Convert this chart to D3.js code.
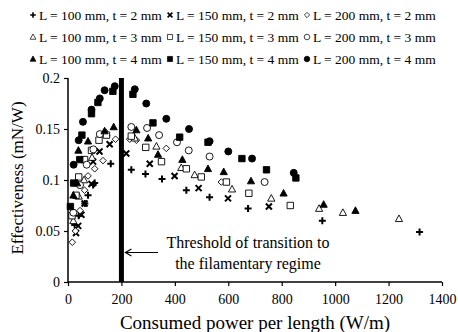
<!DOCTYPE html>
<html>
<head>
<meta charset="utf-8">
<script src="https://cdn.jsdelivr.net/npm/d3@7"></script>
<style>
  body { margin: 0; background: #fff; }
  svg { display: block; font-family: "Liberation Serif", "Times New Roman", serif; }
</style>
</head>
<body>
<div id="chart"></div>
<script>
// series data: [power per length (W/m), effectiveness (mN/W)]
const seriesNames = [
    "L = 100 mm, t = 2 mm", "L = 150 mm, t = 2 mm", "L = 200 mm, t = 2 mm",
    "L = 100 mm, t = 3 mm", "L = 150 mm, t = 3 mm", "L = 200 mm, t = 3 mm",
    "L = 100 mm, t = 4 mm", "L = 150 mm, t = 4 mm", "L = 200 mm, t = 4 mm"
];
const seriesShapes = ["plus", "cross", "diamond", "triangle", "square", "circle", "triangle", "square", "circle"];
const seriesFilled = [false, false, false, false, false, false, true, true, true];

const plus100t2 = [[25,0.056],[40,0.065],[63,0.077],[75,0.085],[94,0.095],[100,0.097],[160,0.116],[237,0.110],[290,0.106],[352,0.101],[443,0.090],[530,0.083],[674,0.072],[952,0.060],[1316,0.049]];
const cross150t2 = [[30,0.048],[38,0.055],[50,0.066],[62,0.077],[88,0.096],[94,0.118],[118,0.128],[156,0.135],[218,0.126],[306,0.116],[399,0.104],[489,0.092],[599,0.082],[752,0.074]];
const diamond200t2 = [[16,0.039],[28,0.050],[45,0.070],[62,0.090],[75,0.104],[100,0.111],[131,0.119],[178,0.140],[231,0.140],[256,0.139],[368,0.131],[574,0.098]];
const tri100t3 = [[20,0.060],[40,0.084],[60,0.100],[90,0.122],[144,0.146],[250,0.141],[331,0.133],[424,0.112],[474,0.105],[614,0.091],[761,0.082],[940,0.072],[1029,0.068],[1239,0.062]];
const sq150t3 = [[15,0.065],[30,0.085],[40,0.103],[62,0.120],[88,0.129],[116,0.139],[144,0.144],[237,0.143],[291,0.132],[350,0.118],[443,0.111],[499,0.103],[593,0.098],[677,0.087],[832,0.075]];
const circ200t3 = [[20,0.068],[45,0.095],[70,0.115],[95,0.130],[119,0.145],[237,0.152],[296,0.151],[341,0.144],[408,0.137],[452,0.129],[530,0.123],[736,0.098]];
const tri100t4 = [[20,0.085],[34,0.097],[39,0.129],[75,0.138],[137,0.148],[171,0.152],[256,0.149],[300,0.141],[337,0.125],[428,0.120],[524,0.111],[583,0.108],[685,0.099],[807,0.087],[957,0.076],[1076,0.070]];
const sq150t4 = [[9,0.074],[21,0.097],[44,0.120],[52,0.144],[88,0.165],[112,0.176],[168,0.187],[243,0.184],[318,0.156],[418,0.142],[524,0.137],[651,0.121],[743,0.110],[853,0.102]];
const circ200t4 = [[21,0.115],[40,0.139],[56,0.157],[88,0.169],[119,0.180],[137,0.188],[175,0.192],[250,0.189],[293,0.175],[368,0.160],[453,0.150],[530,0.138],[600,0.128],[689,0.121],[845,0.107]];
const seriesValues = [plus100t2, cross150t2, diamond200t2, tri100t3, sq150t3, circ200t3, tri100t4, sq150t4, circ200t4];

const xTicks = [0, 200, 400, 600, 800, 1000, 1200, 1400];
const yTicks = [0, 0.05, 0.1, 0.15, 0.2];
const threshold = 200;

const width = 458, height = 332;
const margin = {top: 78, right: 16, bottom: 50, left: 68};

const svg = d3.select("#chart").append("svg")
    .attr("width", width)
    .attr("height", height);

const x = d3.scaleLinear().domain([0, 1400]).range([margin.left, width - margin.right]);
const y = d3.scaleLinear().domain([0, 0.2]).range([height - margin.bottom, margin.top]);

// marker path for a shape centred at 0,0
function markerPath(shape) {
    const p = d3.path();
    if (shape === "plus") {
        p.moveTo(-3.5, 0); p.lineTo(3.5, 0);
        p.moveTo(0, -3.5); p.lineTo(0, 3.5);
    } else if (shape === "cross") {
        p.moveTo(-3, -3); p.lineTo(3, 3);
        p.moveTo(-3, 3); p.lineTo(3, -3);
    } else if (shape === "diamond") {
        p.moveTo(0, -3.3); p.lineTo(3.3, 0); p.lineTo(0, 3.3); p.lineTo(-3.3, 0); p.closePath();
    } else if (shape === "triangle") {
        p.moveTo(0, -3.8); p.lineTo(3.6, 2.8); p.lineTo(-3.6, 2.8); p.closePath();
    } else if (shape === "square") {
        p.rect(-3.2, -3.2, 6.4, 6.4);
    } else {
        p.arc(0, 0, 3.5, 0, 2 * Math.PI);
    }
    return p.toString();
}

function drawMarker(g, i) {
    const shape = seriesShapes[i];
    const line = shape === "plus" || shape === "cross";
    g.append("path")
        .attr("d", markerPath(shape))
        .attr("fill", seriesFilled[i] ? "#000" : (line ? "none" : "#fff"))
        .attr("stroke", "#000")
        .attr("stroke-width", line ? 2 : 0.9);
}

// axes
const xAxis = svg.append("g")
    .attr("transform", `translate(0,${y(0)})`)
    .call(d3.axisBottom(x).tickValues(xTicks).tickSize(4).tickFormat(d3.format("d")));
const yAxis = svg.append("g")
    .attr("transform", `translate(${x(0)},0)`)
    .call(d3.axisLeft(y).tickValues(yTicks).tickSize(4).tickFormat(d => d === 0 ? "0" : String(d)));

[xAxis, yAxis].forEach(a => {
    a.select(".domain").attr("stroke", "#000").attr("stroke-width", 1.5);
    a.selectAll(".tick line").attr("stroke", "#000").attr("stroke-width", 1.2);
    a.selectAll("text")
        .attr("fill", "#000")
        .attr("font-family", "Liberation Serif, serif")
        .attr("font-size", "14px");
});
xAxis.selectAll("text").attr("dy", "1.05em");
yAxis.selectAll("text").attr("x", -8);
// plain domain lines without end caps
xAxis.select(".domain").attr("d", `M${x(0)},0H${x(1400)}`);
yAxis.select(".domain").attr("d", `M0,${y(0.2)}V${y(0)}`);

// threshold bar
svg.append("line")
    .attr("x1", x(threshold)).attr("x2", x(threshold))
    .attr("y1", y(0.2)).attr("y2", y(0))
    .attr("stroke", "#000")
    .attr("stroke-width", 5);

// points
seriesValues.forEach((vals, i) => {
    const g = svg.append("g").attr("class", "series-" + i);
    vals.forEach(d => {
        const m = g.append("g").attr("transform", `translate(${x(d[0])},${y(d[1])})`);
        drawMarker(m, i);
    });
});

// annotation arrow pointing at the threshold bar
const ay = 252.5, tipX = x(threshold) + 4;
svg.append("path")
    .attr("d", `M158,${ay}H${tipX} M${tipX + 6},${ay - 3.5}L${tipX},${ay}L${tipX + 6},${ay + 3.5}`)
    .attr("fill", "none")
    .attr("stroke", "#000")
    .attr("stroke-width", 1.2);

const note = svg.append("text")
    .attr("x", 248)
    .attr("y", 248)
    .attr("text-anchor", "middle")
    .attr("font-size", "16px")
    .attr("fill", "#000");
note.append("tspan").attr("x", 248).text("Threshold of transition to");
note.append("tspan").attr("x", 248).attr("dy", 21).text("the filamentary regime");

// axis titles
svg.append("text")
    .attr("x", (x(0) + x(1400)) / 2)
    .attr("y", 329)
    .attr("text-anchor", "middle")
    .attr("font-size", "19px")
    .attr("fill", "#000")
    .text("Consumed power per length (W/m)");

svg.append("text")
    .attr("transform", `translate(23,${(y(0) + y(0.2)) / 2 - 2}) rotate(-90)`)
    .attr("text-anchor", "middle")
    .attr("font-size", "17px")
    .attr("fill", "#000")
    .text("Effectiveness (mN/W)");

// legend: 3 rows x 3 columns
const legend = svg.append("g").attr("class", "legend");
seriesNames.forEach((name, i) => {
    const row = Math.floor(i / 3), col = i % 3;
    const gx = 30 + col * 137, gy = 15.5 + row * 22;
    const item = legend.append("g").attr("transform", `translate(${gx},${gy})`);
    const m = item.append("g").attr("transform", "translate(3,-0.5) scale(0.8)");
    drawMarker(m, i);
    item.append("text")
        .attr("x", 9)
        .attr("y", 4.5)
        .attr("font-size", "13.5px")
        .attr("fill", "#000")
        .text(name);
});
</script>
</body>
</html>
